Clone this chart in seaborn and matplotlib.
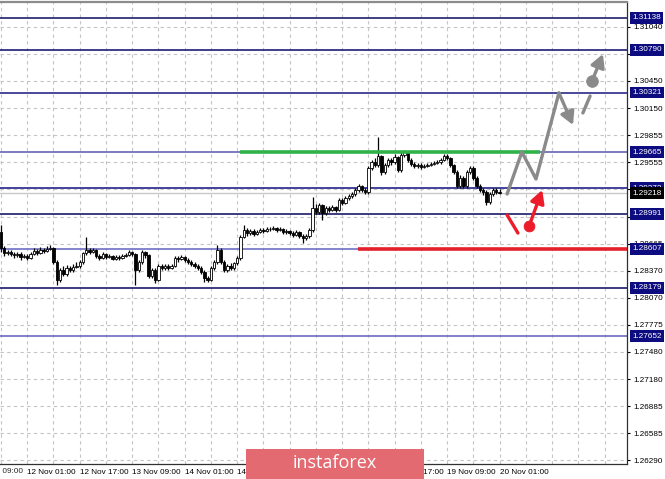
import numpy as np
import pandas as pd
import seaborn as sns
import matplotlib.pyplot as plt
import matplotlib.transforms as mtransforms
from matplotlib.patches import Rectangle

# hourly candles, 11 Nov 17:00 .. 20 Nov 01:00
first_open = 1.28792
closes = [
    1.28617, 1.28562, 1.28573, 1.28551, 1.28540, 1.28551, 1.28518, 1.28529, 1.28507, 1.28551,
    1.28584, 1.28562, 1.28595, 1.28584, 1.28606, 1.28617, 1.28463, 1.28266, 1.28376, 1.28332,
    1.28398, 1.28376, 1.28409, 1.28420, 1.28463, 1.28562, 1.28595, 1.28573, 1.28595, 1.28529,
    1.28507, 1.28551, 1.28518, 1.28529, 1.28496, 1.28518, 1.28507, 1.28529, 1.28540, 1.28573,
    1.28551, 1.28376, 1.28463, 1.28573, 1.28540, 1.28310, 1.28376, 1.28266, 1.28420, 1.28398,
    1.28420, 1.28398, 1.28420, 1.28507, 1.28496, 1.28518, 1.28485, 1.28463, 1.28441, 1.28420,
    1.28398, 1.28354, 1.28288, 1.28266, 1.28398, 1.28463, 1.28595, 1.28463, 1.28376, 1.28420,
    1.28398, 1.28452, 1.28507, 1.28737, 1.28814, 1.28781, 1.28803, 1.28770, 1.28792, 1.28814,
    1.28803, 1.28825, 1.28825, 1.28836, 1.28814, 1.28825, 1.28792, 1.28803, 1.28781, 1.28759,
    1.28792, 1.28748, 1.28726, 1.28748, 1.28814, 1.29055, 1.29011, 1.29088, 1.29000, 1.29055,
    1.29033, 1.29066, 1.29033, 1.29143, 1.29110, 1.29165, 1.29187, 1.29209, 1.29253, 1.29296,
    1.29253, 1.29231, 1.29494, 1.29559, 1.29527, 1.29625, 1.29450, 1.29527, 1.29581, 1.29559,
    1.29614, 1.29472, 1.29636, 1.29669, 1.29581, 1.29537, 1.29516, 1.29527, 1.29505, 1.29516,
    1.29527, 1.29537, 1.29548, 1.29559, 1.29581, 1.29625, 1.29603, 1.29527, 1.29450, 1.29296,
    1.29384, 1.29296, 1.29450, 1.29494, 1.29384, 1.29296, 1.29253, 1.29231, 1.29121, 1.29209,
    1.29253, 1.29231, 1.29218,
]
highs = [
    1.28868, 1.28639, 1.28595, 1.28595, 1.28573, 1.28573, 1.28573, 1.28551, 1.28551, 1.28573,
    1.28617, 1.28606, 1.28628, 1.28617, 1.28639, 1.28650, 1.28628, 1.28485, 1.28398, 1.28420,
    1.28430, 1.28420, 1.28441, 1.28463, 1.28485, 1.28573, 1.28737, 1.28617, 1.28617, 1.28606,
    1.28551, 1.28573, 1.28562, 1.28551, 1.28540, 1.28540, 1.28540, 1.28551, 1.28562, 1.28595,
    1.28584, 1.28562, 1.28485, 1.28595, 1.28584, 1.28551, 1.28398, 1.28398, 1.28441, 1.28441,
    1.28441, 1.28441, 1.28441, 1.28529, 1.28529, 1.28540, 1.28529, 1.28507, 1.28485, 1.28463,
    1.28441, 1.28420, 1.28376, 1.28310, 1.28420, 1.28485, 1.28650, 1.28617, 1.28485, 1.28441,
    1.28452, 1.28463, 1.28529, 1.28759, 1.28868, 1.28836, 1.28825, 1.28825, 1.28814, 1.28836,
    1.28836, 1.28846, 1.28846, 1.28857, 1.28846, 1.28846, 1.28836, 1.28825, 1.28814, 1.28803,
    1.28814, 1.28803, 1.28770, 1.28770, 1.28836, 1.29176, 1.29099, 1.29110, 1.29099, 1.29077,
    1.29077, 1.29088, 1.29077, 1.29165, 1.29165, 1.29187, 1.29209, 1.29231, 1.29274, 1.29318,
    1.29307, 1.29274, 1.29516, 1.29581, 1.29603, 1.29834, 1.29636, 1.29548, 1.29603, 1.29603,
    1.29647, 1.29625, 1.29669, 1.29691, 1.29680, 1.29603, 1.29559, 1.29548, 1.29548, 1.29537,
    1.29548, 1.29559, 1.29570, 1.29581, 1.29603, 1.29647, 1.29647, 1.29614, 1.29537, 1.29472,
    1.29417, 1.29406, 1.29472, 1.29516, 1.29516, 1.29406, 1.29318, 1.29274, 1.29253, 1.29231,
    1.29274, 1.29274, 1.29263,
]
lows = [
    1.28573, 1.28529, 1.28540, 1.28529, 1.28507, 1.28518, 1.28485, 1.28507, 1.28485, 1.28496,
    1.28540, 1.28540, 1.28551, 1.28562, 1.28573, 1.28595, 1.28441, 1.28211, 1.28244, 1.28310,
    1.28310, 1.28354, 1.28354, 1.28398, 1.28398, 1.28441, 1.28540, 1.28551, 1.28562, 1.28507,
    1.28485, 1.28496, 1.28496, 1.28507, 1.28485, 1.28485, 1.28485, 1.28496, 1.28518, 1.28529,
    1.28529, 1.28211, 1.28354, 1.28441, 1.28507, 1.28288, 1.28288, 1.28233, 1.28255, 1.28376,
    1.28376, 1.28376, 1.28387, 1.28409, 1.28463, 1.28485, 1.28463, 1.28441, 1.28420, 1.28398,
    1.28376, 1.28332, 1.28244, 1.28244, 1.28255, 1.28376, 1.28441, 1.28441, 1.28354, 1.28354,
    1.28376, 1.28376, 1.28430, 1.28485, 1.28726, 1.28748, 1.28759, 1.28748, 1.28759, 1.28781,
    1.28781, 1.28792, 1.28803, 1.28814, 1.28792, 1.28803, 1.28770, 1.28770, 1.28759, 1.28737,
    1.28748, 1.28726, 1.28672, 1.28704, 1.28726, 1.28792, 1.28989, 1.28989, 1.28923, 1.28978,
    1.29011, 1.29022, 1.29011, 1.29022, 1.29088, 1.29099, 1.29143, 1.29165, 1.29187, 1.29231,
    1.29231, 1.29209, 1.29209, 1.29472, 1.29505, 1.29505, 1.29417, 1.29428, 1.29505, 1.29527,
    1.29537, 1.29450, 1.29450, 1.29614, 1.29559, 1.29516, 1.29494, 1.29494, 1.29483, 1.29494,
    1.29505, 1.29516, 1.29527, 1.29537, 1.29537, 1.29570, 1.29581, 1.29505, 1.29428, 1.29274,
    1.29274, 1.29274, 1.29274, 1.29428, 1.29362, 1.29274, 1.29231, 1.29198, 1.29088, 1.29099,
    1.29187, 1.29209, 1.29209,
]

# horizontal levels drawn by the analyst
level_prices = [1.31138, 1.30790, 1.30321, 1.29665, 1.29272, 1.28991, 1.28607, 1.28179, 1.27652]
level_colors = ["#20206e", "#1c1c78", "#2a2a88", "#6464b4", "#22228a", "#1a1a6a", "#7070c4", "#1a1a6a", "#6c6cc0"]
bid_price = 1.29218

ytick_values = [1.31040, 1.30745, 1.30450, 1.30150, 1.29855, 1.29555, 1.29260, 1.28960, 1.28665,
                1.28370, 1.28070, 1.27775, 1.27480, 1.27180, 1.26885, 1.26585, 1.26290]
xtick_bars = [-8, 8, 24, 40, 56, 72, 88, 104, 120, 136, 152]
xtick_labels = ["11 Nov 09:00", "12 Nov 01:00", "12 Nov 17:00", "13 Nov 09:00", "14 Nov 01:00",
                "14 Nov 17:00", "15 Nov 09:00", "18 Nov 01:00", "18 Nov 17:00", "19 Nov 09:00",
                "20 Nov 01:00"]

# forecast sketch (bar index, price)
green_span = [72.9, 164.3]
green_price = 1.29665
red_span = [108.8, 191.0]
red_price = 1.28607
gray_path_x = [154.3, 158.8, 163.1, 170.1]
gray_path_y = [1.29209, 1.29669, 1.29373, 1.30316]
gray_arrow1 = [(170.1, 1.30316), (174.4, 1.29965)]
gray_dash = [(177.4, 1.30097), (179.6, 1.30283)]
gray_dot = (180.2, 1.30447)
gray_arrow2_tip = (183.5, 1.30743)
red_dash = [(154.3, 1.28978), (157.6, 1.28781)]
red_dot = (161.0, 1.28858)
red_arrow_tip = (165.0, 1.29253)

df = pd.DataFrame({"close": closes, "high": highs, "low": lows})
df["open"] = [first_open] + closes[:-1]
df["bar"] = np.arange(len(df))

sns.set_style("white")
plt.rcParams["font.family"] = ["Liberation Sans", "DejaVu Sans"]
fs = 5.9

fig = plt.figure(figsize=(6.65, 4.79), dpi=100)
ax = fig.add_axes([0, 15 / 479, 627 / 665, 462 / 479])
ax.set_xlim(-0.305, 190.85)
ax.set_ylim(1.26250, 1.31313)

# grid
grid_kw = dict(color="#c4c4c4", lw=0.8, ls=(0, (3, 3)), zorder=0)
for gx in range(0, 192, 8):
    ax.axvline(gx, **grid_kw)
for gy in ytick_values:
    ax.axhline(gy, **grid_kw)

# levels
for p, c in zip(level_prices, level_colors):
    ax.axhline(p, color=c, lw=1.2, zorder=1)
ax.axhline(bid_price, color="#c8c8c8", lw=1.0, zorder=1)

# candles
up = df["close"] >= df["open"]
ax.vlines(df["bar"], df["low"], df["high"], color="black", lw=0.9, zorder=3)
body_bottom = np.minimum(df["open"], df["close"])
body_h = np.maximum((df["close"] - df["open"]).abs(), 0.00003)
ax.bar(df["bar"], body_h, bottom=body_bottom, width=0.72,
       color=np.where(up, "white", "black"), edgecolor="black", linewidth=0.6, zorder=4)

# green / red zones
ax.plot(green_span, [green_price] * 2, color="#2eb24a", lw=2.6, zorder=5, solid_capstyle="butt")
ax.plot(red_span, [red_price] * 2, color="#e3202b", lw=2.6, zorder=5, solid_capstyle="butt")

# forecast arrows
gray = "#8a8a8a"
red = "#ec1c2a"
head = "-|>,head_length=0.55,head_width=0.3"
sns.lineplot(x=gray_path_x, y=gray_path_y, sort=False, color=gray, lw=2.4, ax=ax, zorder=6)
ax.annotate("", xy=gray_arrow1[1], xytext=gray_arrow1[0],
            arrowprops=dict(arrowstyle=head, color=gray, lw=2.4, mutation_scale=14,
                            shrinkA=0, shrinkB=0), zorder=6)
ax.plot([q[0] for q in gray_dash], [q[1] for q in gray_dash], color=gray, lw=2.4, zorder=6)
ax.annotate("", xy=gray_arrow2_tip, xytext=gray_dot,
            arrowprops=dict(arrowstyle=head, color=gray, lw=2.4, mutation_scale=14,
                            shrinkA=0, shrinkB=0), zorder=6)
sns.scatterplot(x=[gray_dot[0]], y=[gray_dot[1]], s=70, color=gray, edgecolor=gray, ax=ax, zorder=7)

ax.plot([q[0] for q in red_dash], [q[1] for q in red_dash], color=red, lw=2.4, zorder=6)
ax.annotate("", xy=red_arrow_tip, xytext=red_dot,
            arrowprops=dict(arrowstyle=head, color=red, lw=2.4, mutation_scale=14,
                            shrinkA=0, shrinkB=0), zorder=6)
sns.scatterplot(x=[red_dot[0]], y=[red_dot[1]], s=60, color=red, edgecolor=red, ax=ax, zorder=7)

# axes frame and ticks
ax.spines["left"].set_visible(False)
ax.spines["top"].set_color("#8c8c8c")
ax.spines["top"].set_linewidth(1.6)
ax.spines["right"].set_color("#303030")
ax.spines["bottom"].set_color("#303030")
ax.spines["right"].set_linewidth(0.9)
ax.spines["bottom"].set_linewidth(0.9)

ax.yaxis.tick_right()
ax.set_yticks(ytick_values)
ax.set_yticklabels([f"{v:.5f}" for v in ytick_values])
ax.tick_params(axis="y", direction="out", length=2.5, width=0.8, pad=2, labelsize=fs, colors="black")
ax.set_xticks(xtick_bars[1:])
ax.set_xticklabels(xtick_labels[1:], ha="left")
ax.tick_params(axis="x", direction="out", length=2.5, width=0.8, pad=0.8, labelsize=fs, colors="black")
ax.text(xtick_bars[0], -0.0085, xtick_labels[0], fontsize=fs, ha="left", va="top",
        transform=mtransforms.blended_transform_factory(ax.transData, ax.transAxes))
ax.set_xlabel("")
ax.set_ylabel("")

# price labels on the right scale
lab_tr = mtransforms.blended_transform_factory(ax.transAxes, ax.transData)
for p in level_prices:
    ax.text(1 + 5 / 627, p, f"{p:.5f}", transform=lab_tr, fontsize=fs, color="white",
            va="center", ha="left", zorder=10, clip_on=False,
            bbox=dict(boxstyle="square,pad=0.3", fc="#0c0c80", ec="none"))
ax.text(1 + 5 / 627, bid_price, f"{bid_price:.5f}", transform=lab_tr, fontsize=fs, color="white",
        va="center", ha="left", zorder=11, clip_on=False,
        bbox=dict(boxstyle="square,pad=0.3", fc="black", ec="none"))

# watermark banner
fig.add_artist(Rectangle((246 / 665, 0), 178 / 665, 30 / 479, transform=fig.transFigure,
                         fc="#e36a70", ec="none", zorder=20))
fig.text(335 / 665, 16 / 479, "instaforex", color="white", fontsize=13,
         family=["Open Sans", "DejaVu Sans"], ha="center", va="center", zorder=21)

fig.savefig("out.png", dpi=100, facecolor="white")
